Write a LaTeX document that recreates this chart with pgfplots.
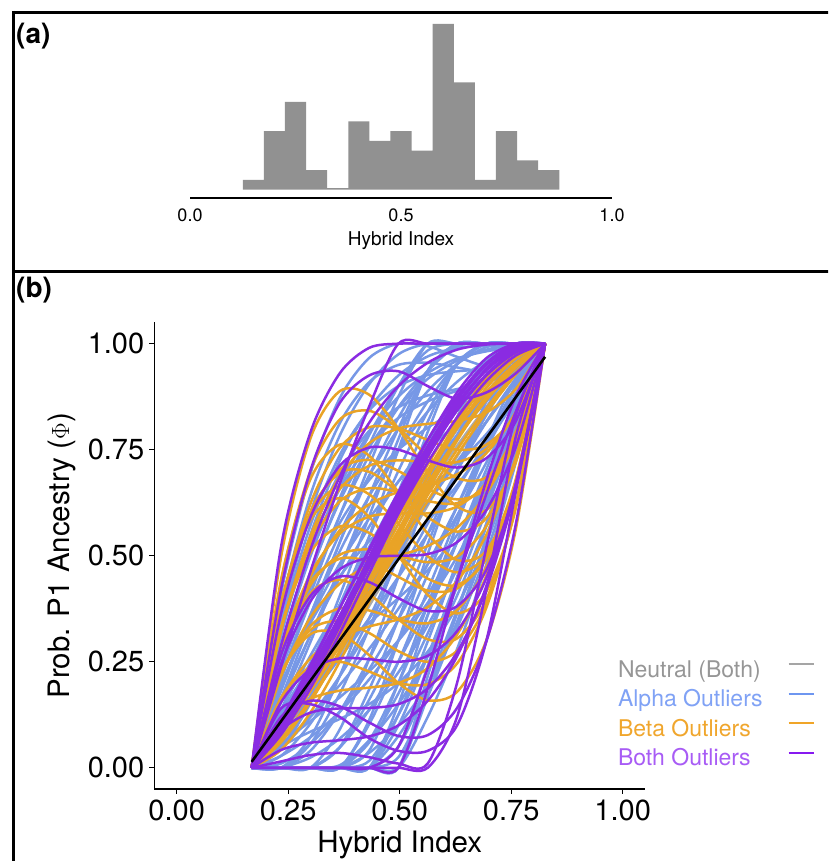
\documentclass[border=0pt]{standalone}
\usepackage{pgfplots}
\usepackage{pgfplotstable}
\pgfplotsset{compat=1.18}
\usepackage{fontspec}
\setmainfont{TeX Gyre Heros}

\definecolor{histgray}{RGB}{145,145,145}
\definecolor{neucol}{RGB}{170,170,170}
\definecolor{alcol}{RGB}{119,152,230}
\definecolor{becol}{RGB}{233,163,38}
\definecolor{bocol}{RGB}{138,43,226}
\definecolor{neutxt}{RGB}{150,150,150}
\definecolor{altxt}{RGB}{128,162,245}
\definecolor{betxt}{RGB}{240,166,45}
\definecolor{botxt}{RGB}{168,92,245}
\definecolor{neuleg}{RGB}{165,165,165}
\definecolor{alleg}{RGB}{110,150,240}
\definecolor{beleg}{RGB}{240,165,40}
\definecolor{boleg}{RGB}{135,25,240}

% rows = curves, columns = points along the hybrid index
\pgfplotstableread{
id p0 p1 p2 p3 p4 p5 p6 p7 p8 p9 p10
x 0.168 0.2338 0.2996 0.3654 0.4312 0.497 0.5628 0.6286 0.6944 0.7602 0.826
n1 0 0.109 0.216 0.321 0.424 0.525 0.624 0.721 0.816 0.909 1
n2 0 0.104 0.213 0.325 0.438 0.55 0.658 0.759 0.851 0.932 1
n3 0 0.071 0.162 0.266 0.381 0.5 0.619 0.734 0.838 0.929 1
n4 0 0.098 0.21 0.329 0.453 0.575 0.691 0.797 0.886 0.956 1
}\rawneutral

\pgfplotstableread{
id p0 p1 p2 p3 p4 p5 p6 p7 p8 p9 p10
x 0.168 0.2338 0.2996 0.3654 0.4312 0.497 0.5628 0.6286 0.6944 0.7602 0.826
b01 0 0 0 0 0 0 0.12 0.28 0.48 0.72 1
b02 0 0 0 0 0 0.075 0.192 0.343 0.528 0.747 1
b03 0 0 0 0.006 0.064 0.15 0.264 0.406 0.576 0.774 1
b04 0 0.001 0.024 0.069 0.136 0.225 0.336 0.469 0.624 0.801 1
b05 0 0.028 0.072 0.132 0.208 0.3 0.408 0.532 0.672 0.828 1
b06 0 0.055 0.12 0.195 0.28 0.375 0.48 0.595 0.72 0.855 1
b07 0 0.082 0.168 0.258 0.352 0.45 0.552 0.658 0.768 0.882 1
b08 0 0.109 0.216 0.321 0.424 0.525 0.624 0.721 0.816 0.909 1
b09 0 0.136 0.264 0.384 0.496 0.6 0.696 0.784 0.864 0.936 1
b10 0 0.163 0.312 0.447 0.568 0.675 0.768 0.847 0.912 0.963 1
b11 0 0.19 0.36 0.51 0.64 0.75 0.84 0.91 0.96 0.99 1
b12 0 0.208 0.392 0.552 0.688 0.8 0.888 0.952 0.992 1 1
b13 0 0.226 0.424 0.594 0.736 0.85 0.936 0.994 1 1 1
b14 0 0.244 0.456 0.636 0.784 0.9 0.984 1 1 1 1
b15 0 0 0 0 0 0 0.168 0.364 0.576 0.792 1
b16 0 0 0 0 0 0.1 0.264 0.448 0.64 0.828 1
b17 0 0 0 0 0.064 0.2 0.36 0.532 0.704 0.864 1
b18 0 0 0 0.048 0.16 0.3 0.456 0.616 0.768 0.9 1
b19 0 0 0.04 0.132 0.256 0.4 0.552 0.7 0.832 0.936 1
b20 0 0.028 0.104 0.216 0.352 0.5 0.648 0.784 0.896 0.972 1
b21 0 0.064 0.168 0.3 0.448 0.6 0.744 0.868 0.96 1 1
b22 0 0.1 0.232 0.384 0.544 0.7 0.84 0.952 1 1 1
b23 0 0.136 0.296 0.468 0.64 0.8 0.936 1 1 1 1
b24 0 0.163 0.344 0.531 0.712 0.875 1 1 1 1 1
b25 0 0 0 0 0 0 0.216 0.448 0.672 0.864 1
b26 0 0 0 0 0 0.15 0.36 0.574 0.768 0.918 1
b27 0 0 0 0 0.112 0.3 0.504 0.7 0.864 0.972 1
b28 0 0 0 0.09 0.256 0.45 0.648 0.826 0.96 1 1
b29 0 0 0.072 0.216 0.4 0.6 0.792 0.952 1 1 1
b30 0 0.046 0.168 0.342 0.544 0.75 0.936 1 1 1 1
b31 0 0.05 0.085 0.115 0.15 0.2 0.274 0.381 0.531 0.734 1
b32 0 0.122 0.213 0.283 0.342 0.4 0.466 0.549 0.659 0.806 1
b33 0 0.194 0.341 0.451 0.534 0.6 0.658 0.717 0.787 0.878 1
b34 0 0.248 0.437 0.577 0.678 0.75 0.802 0.843 0.883 0.932 1
b35 0 0 0 0 0 0.025 0.168 0.343 0.544 0.765 1
b36 0 0 0 0 0.016 0.125 0.264 0.427 0.608 0.801 1
b37 0 0 0 0.048 0.136 0.25 0.384 0.532 0.688 0.846 1
b38 0 0.01 0.056 0.132 0.232 0.35 0.48 0.616 0.752 0.882 1
b39 0 0.046 0.12 0.216 0.328 0.45 0.576 0.7 0.816 0.918 1
b40 0 0.082 0.184 0.3 0.424 0.55 0.672 0.784 0.88 0.954 1
b41 0 0.118 0.248 0.384 0.52 0.65 0.768 0.868 0.944 0.99 1
b42 0 0.154 0.312 0.468 0.616 0.75 0.864 0.952 1 1 1
b43 0 0.181 0.36 0.531 0.688 0.825 0.936 1 1 1 1
b44 0 0.208 0.408 0.594 0.76 0.9 1 1 1 1 1
b45 0 0 0 0 0 0.05 0.24 0.448 0.656 0.846 1
b46 0 0 0 0 0.04 0.2 0.384 0.574 0.752 0.9 1
b47 0 0 0 0.048 0.184 0.35 0.528 0.7 0.848 0.954 1
b48 0 0 0.056 0.174 0.328 0.5 0.672 0.826 0.944 1 1
b49 0 0.046 0.152 0.3 0.472 0.65 0.816 0.952 1 1 1
b50 0 0.091 0.232 0.405 0.592 0.775 0.936 1 1 1 1
b51 0 0 0 0 0.035 0.1 0.197 0.33 0.506 0.727 1
b52 0 0.057 0.11 0.166 0.227 0.3 0.389 0.498 0.634 0.799 1
b53 0 0.129 0.238 0.334 0.419 0.5 0.581 0.666 0.762 0.871 1
b54 0 0.192 0.35 0.481 0.587 0.675 0.749 0.813 0.874 0.934 1
b55 0 0.255 0.462 0.628 0.755 0.85 0.917 0.96 0.986 0.997 1
b56 0 0.377 0.642 0.812 0.909 0.95 0.955 0.944 0.934 0.947 1
b57 0 0.33 0.571 0.737 0.842 0.9 0.926 0.935 0.941 0.958 1
b58 0 0.311 0.549 0.724 0.846 0.925 0.97 0.99 0.995 0.995 1
b59 0 0.312 0.539 0.695 0.794 0.85 0.878 0.893 0.909 0.94 1
b60 0 0.278 0.498 0.665 0.789 0.875 0.931 0.965 0.982 0.992 1
b61 0 0.343 0.6 0.783 0.904 0.975 1 1 1 0.999 1
b62 0 0.289 0.504 0.657 0.76 0.825 0.864 0.889 0.912 0.945 1
b63 0 0.41 0.693 0.871 0.966 1 0.994 0.969 0.947 0.95 1
b64 0 0 0 0 0 0.05 0.197 0.372 0.57 0.781 1
b65 0 0 0 0 0.059 0.175 0.317 0.477 0.65 0.826 1
b66 0 0 0 0 0 0.125 0.298 0.486 0.675 0.851 1
b67 0 0 0 0 0.102 0.25 0.418 0.591 0.755 0.896 1
}\rawalpha

\pgfplotstableread{
id p0 p1 p2 p3 p4 p5 p6 p7 p8 p9 p10
x 0.168 0.2338 0.2996 0.3654 0.4312 0.497 0.5628 0.6286 0.6944 0.7602 0.826
o01 0 0.107 0.162 0.182 0.189 0.2 0.235 0.314 0.454 0.677 1
o02 0 0.161 0.258 0.308 0.333 0.35 0.379 0.44 0.55 0.731 1
o03 0 0.215 0.354 0.434 0.477 0.5 0.523 0.566 0.646 0.785 1
o04 0 0.269 0.45 0.56 0.621 0.65 0.667 0.692 0.742 0.839 1
o05 0 0.323 0.546 0.686 0.765 0.8 0.811 0.818 0.838 0.893 1
o06 0 0.165 0.238 0.25 0.227 0.2 0.197 0.246 0.378 0.619 1
o07 0 0.219 0.334 0.376 0.371 0.35 0.341 0.372 0.474 0.673 1
o08 0 0.273 0.43 0.502 0.515 0.5 0.485 0.498 0.57 0.727 1
o09 0 0.327 0.526 0.628 0.659 0.65 0.629 0.624 0.666 0.781 1
o10 0 0.381 0.622 0.754 0.803 0.8 0.773 0.75 0.762 0.835 1
o11 0 0.222 0.315 0.317 0.266 0.2 0.159 0.179 0.301 0.562 1
o12 0 0.276 0.411 0.443 0.41 0.35 0.303 0.305 0.397 0.616 1
o13 0 0.33 0.507 0.569 0.554 0.5 0.446 0.431 0.493 0.67 1
o14 0 0.384 0.603 0.695 0.698 0.65 0.591 0.557 0.589 0.724 1
o15 0 0.438 0.699 0.821 0.842 0.8 0.735 0.683 0.685 0.778 1
o16 0 0.388 0.584 0.636 0.592 0.5 0.408 0.364 0.416 0.612 1
o17 0 0.442 0.68 0.762 0.736 0.65 0.552 0.49 0.512 0.666 1
o18 0 0.496 0.776 0.888 0.88 0.8 0.696 0.616 0.608 0.72 1
o19 0 0.066 0.158 0.271 0.395 0.525 0.653 0.771 0.874 0.952 1
o20 0 0.089 0.194 0.308 0.429 0.55 0.667 0.776 0.87 0.947 1
o21 0 0.06 0.155 0.275 0.41 0.55 0.686 0.809 0.909 0.976 1
o22 0 0.084 0.19 0.313 0.443 0.575 0.701 0.813 0.906 0.97 1
o23 0 0.042 0.13 0.25 0.39 0.54 0.686 0.818 0.922 0.986 1
o24 0 0.084 0.181 0.287 0.4 0.515 0.629 0.738 0.838 0.927 1
o25 0 0.089 0.19 0.3 0.414 0.53 0.643 0.75 0.848 0.932 1
o26 0 0.1 0.21 0.325 0.443 0.56 0.672 0.776 0.867 0.943 1
o27 0 0.111 0.229 0.35 0.472 0.59 0.701 0.801 0.886 0.954 1
o28 0 0.068 0.162 0.275 0.4 0.53 0.658 0.776 0.877 0.954 1
o29 0 0.078 0.181 0.3 0.429 0.56 0.686 0.801 0.896 0.965 1
o30 0 0.089 0.2 0.325 0.458 0.59 0.715 0.826 0.915 0.976 1
o31 0 0.28 0.456 0.552 0.592 0.6 0.6 0.616 0.672 0.792 1
o32 0 0.284 0.437 0.493 0.486 0.45 0.418 0.423 0.499 0.68 1
o33 0 0.325 0.536 0.657 0.712 0.725 0.72 0.721 0.752 0.837 1
o34 0 0.386 0.594 0.665 0.645 0.575 0.499 0.461 0.502 0.668 1
o35 0 0.221 0.325 0.346 0.318 0.275 0.25 0.276 0.387 0.618 1
o36 0 0.374 0.597 0.703 0.726 0.7 0.658 0.633 0.659 0.77 1
}\rawbeta

\pgfplotstableread{
id p0 p1 p2 p3 p4 p5 p6 p7 p8 p9 p10
x 0.168 0.2338 0.2996 0.3654 0.4312 0.497 0.5628 0.6286 0.6944 0.7602 0.826
q01 0 0.52 0.79 0.93 0.99 1 1 1 1 1 1
q02 0 0.42 0.7 0.86 0.925 0.935 0.9 0.87 0.885 0.93 1
q03 0 0 0 0 0 0 0 0.12 0.42 0.78 1
q04 0 0.015 0.03 0.035 0.025 0.01 0.01 0.2 0.52 0.83 1
q05 0 0.14 0.15 0.12 0.07 0.04 0.04 0.1 0.3 0.65 1
q06 0 0.1 0.216 0.342 0.472 0.6 0.72 0.826 0.912 0.972 1
q07 0 0.078 0.187 0.317 0.458 0.6 0.734 0.851 0.941 0.994 1
q08 0 0.107 0.229 0.359 0.491 0.62 0.739 0.843 0.925 0.979 1
q09 0 0.086 0.2 0.334 0.477 0.62 0.754 0.868 0.954 1 1
q10 0 0.114 0.242 0.376 0.51 0.64 0.758 0.86 0.938 0.986 1
q11 0 0.093 0.213 0.35 0.496 0.64 0.773 0.885 0.966 1 1
q12 0 0.363 0.59 0.712 0.755 0.75 0.725 0.708 0.73 0.817 1
q15 0 0.244 0.392 0.468 0.496 0.5 0.504 0.532 0.608 0.756 1
q16 0 0.266 0.405 0.451 0.438 0.4 0.37 0.381 0.467 0.662 1
q17 0 0.154 0.232 0.258 0.256 0.25 0.264 0.322 0.448 0.666 1
q18 0 0.089 0.13 0.14 0.141 0.15 0.187 0.272 0.422 0.659 1
q19 0 0.042 0.059 0.065 0.074 0.1 0.158 0.263 0.429 0.67 1
q20 0 0 0 0 0 0 0.187 0.44 0.678 0.875 1
q21 0 0 0 0 0 0.05 0.235 0.44 0.646 0.839 1
q22 0 0.237 0.462 0.67 0.851 1 1 1 1 1 1
q23 0 0.287 0.514 0.686 0.813 0.9 0.955 0.986 0.998 1 1
q24 0 0.12 0.158 0.145 0.107 0.075 0.077 0.141 0.298 0.574 1
q25 0 0.096 0.213 0.342 0.477 0.61 0.734 0.843 0.928 0.983 1
q26 0 0.096 0.216 0.35 0.491 0.63 0.758 0.868 0.95 0.997 1
q27 0 0.097 0.216 0.347 0.484 0.62 0.746 0.855 0.938 0.989 1
q28 0 0.111 0.238 0.376 0.515 0.65 0.773 0.876 0.954 0.997 1
}\rawboth

\pgfplotstabletranspose[colnames from=id]{\neutab}{\rawneutral}
\pgfplotstabletranspose[colnames from=id]{\altab}{\rawalpha}
\pgfplotstabletranspose[colnames from=id]{\betab}{\rawbeta}
\pgfplotstabletranspose[colnames from=id]{\botab}{\rawboth}

\begin{document}
\begin{tikzpicture}[x=1pt,y=1pt]
\useasboundingbox (0,0) rectangle (828,861);
\clip (0,0) rectangle (828,861);

% panel frames
\draw[line width=3pt] (13,848) -- (840,848);
\draw[line width=3pt] (13,850) -- (13,-10);
\draw[line width=3pt] (13,589) -- (840,589);

\node[anchor=north west, inner sep=0pt, font=\fontsize{28}{30}\selectfont\bfseries] at (16,838) {(a)};
\node[anchor=north west, inner sep=0pt, font=\fontsize{28}{30}\selectfont\bfseries] at (16,584) {(b)};

% ---------- panel (a): histogram ----------
\begin{axis}[
  at={(190pt,662.7pt)}, anchor=south west,
  scale only axis, width=422pt, height=174.3pt,
  xmin=0, xmax=1, ymin=-0.9, ymax=17,
  axis x line*=bottom, axis y line=none,
  axis line style={line width=2pt, -},
  xtick={0,0.5,1}, xticklabels={0.0,0.5,1.0},
  ytick=\empty,
  major tick length=0pt,
  xticklabel style={font=\fontsize{18}{20}\selectfont, inner sep=0pt, anchor=north, yshift=-10pt},
  xlabel={Hybrid Index},
  xlabel style={font=\fontsize{19}{21}\selectfont, at={(axis description cs:0.5,0)}, anchor=base, yshift=-47.5pt, inner sep=0pt},
  clip=false,
]
\addplot[ybar interval, fill=histgray, draw=none] coordinates {
(0.125,1) (0.175,6) (0.225,9) (0.275,2) (0.325,0.15) (0.375,7) (0.425,5) (0.475,6)
(0.525,4) (0.575,17) (0.625,11) (0.675,1) (0.725,6) (0.775,3) (0.825,2) (0.875,2)};
\end{axis}

% ---------- panel (b): clines ----------
\begin{axis}[
  at={(154.4pt,72pt)}, anchor=south west,
  scale only axis, width=490.6pt, height=466.5pt,
  xmin=-0.05, xmax=1.05, ymin=-0.05, ymax=1.05,
  axis x line*=bottom, axis y line*=left,
  axis line style={line width=1.5pt, -},
  xtick={0,0.25,0.5,0.75,1}, xticklabels={0.00,0.25,0.50,0.75,1.00},
  ytick={0,0.25,0.5,0.75,1}, yticklabels={0.00,0.25,0.50,0.75,1.00},
  tick align=outside, major tick length=5pt,
  tick style={line width=1.3pt, black},
  ticklabel style={font=\fontsize{29}{32}\selectfont, inner sep=0pt},
  xticklabel style={anchor=north, yshift=-6pt},
  yticklabel style={anchor=east, xshift=-5pt},
  xlabel={Hybrid Index},
  ylabel={Prob. P1 Ancestry ($\Phi$)},
  label style={font=\fontsize{29.5}{32}\selectfont, inner sep=0pt},
  xlabel style={at={(axis description cs:0.5,0)}, anchor=base, yshift=-63pt},
  ylabel style={at={(axis description cs:-0.174,0.5)}, anchor=base, rotate=0},
  every axis plot/.append style={smooth, no markers, line width=2.5pt},
  legend style={at={(axis description cs:0.945,0.2765)}, anchor=north west,
    draw=none, fill=none, inner sep=0pt, outer sep=0pt,
    font=\fontsize{23}{26}\selectfont, row sep=7.5pt, column sep=25pt,
    nodes={inner sep=0pt, text height=17pt, text depth=5pt}},
  legend cell align=left,
  legend plot pos=right,
  legend image code/.code={\draw[#1] (0pt,7pt) -- (25pt,7pt);},
]
\pgfplotsinvokeforeach{n1,n2,n3,n4}{
  \addplot[neucol, forget plot] table[x=x, y=#1] {\neutab};
}
\pgfplotsinvokeforeach{b01,b02,b03,b04,b05,b06,b07,b08,b09,b10,b11,b12,b13,b14,b15,b16,b17,b18,b19,b20,b21,b22,b23,b24,b25,b26,b27,b28,b29,b30,b31,b32,b33,b34,b35,b36,b37,b38,b39,b40,b41,b42,b43,b44,b45,b46,b47,b48,b49,b50,b51,b52,b53,b54,b55,b56,b57,b58,b59,b60,b61,b62,b63,b64,b65,b66,b67}{
  \addplot[alcol, forget plot] table[x=x, y=#1] {\altab};
}
\pgfplotsinvokeforeach{o01,o02,o03,o04,o05,o06,o07,o08,o09,o10,o11,o12,o13,o14,o15,o16,o17,o18,o19,o20,o21,o22,o23,o24,o25,o26,o27,o28,o29,o30,o31,o32,o33,o34,o35,o36}{
  \addplot[becol, forget plot] table[x=x, y=#1] {\betab};
}
\pgfplotsinvokeforeach{q01,q02,q03,q04,q05,q06,q07,q08,q09,q10,q11,q12,q15,q16,q17,q18,q19,q20,q21,q22,q23,q24,q25,q26,q27,q28}{
  \addplot[bocol, forget plot] table[x=x, y=#1] {\botab};
}
\addplot[black, line width=2.6pt, sharp plot, forget plot] coordinates {(0.168,0.014) (0.826,0.969)};

\addlegendimage{neuleg, line width=2pt}
\addlegendentry{\textcolor{neutxt}{Neutral (Both)}}
\addlegendimage{alleg, line width=2pt}
\addlegendentry{\textcolor{altxt}{Alpha Outliers}}
\addlegendimage{beleg, line width=2pt}
\addlegendentry{\textcolor{betxt}{Beta Outliers}}
\addlegendimage{boleg, line width=2pt}
\addlegendentry{\textcolor{botxt}{Both Outliers}}
\end{axis}
\end{tikzpicture}
\end{document}
